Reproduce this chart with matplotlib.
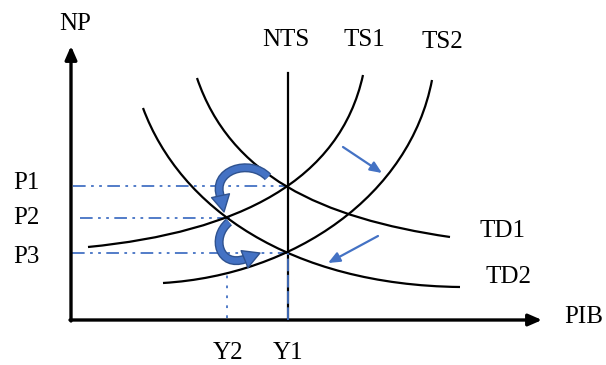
import matplotlib
matplotlib.use("Agg")
import matplotlib.pyplot as plt
import matplotlib.patheffects as pe
from matplotlib.path import Path
from matplotlib.patches import PathPatch

plt.rcParams['font.family'] = ['Liberation Serif', 'DejaVu Serif']

# Price levels and output levels (schematic units, origin at the axes corner)
price_labels = ["P1", "P2", "P3"]
price_levels = [134, 102, 67]
output_labels = ["Y2", "Y1"]
output_levels = [157, 217]

# Cubic Bezier control points for the curves
td1_ctrl = [(126, 242), (159, 145), (249, 102), (379, 83)]
td2_ctrl = [(72, 212), (109, 112), (219, 35), (389, 33)]
ts1_ctrl = [(292, 245), (269, 140), (169, 88), (17, 73)]
ts2_ctrl = [(361, 240), (339, 125), (224, 45), (92, 37)]
nts_top = 247

# Curved adjustment arrows: body (cubic Bezier) and head tip
adj1_body = [(197, 143), (179, 162), (139, 150), (150, 122)]
adj1_tip = (153, 108)
adj2_body = [(158, 98), (139, 82), (149, 52), (174, 61)]
adj2_tip = (189, 67)

BLUE = "#4472C4"
DARK_BLUE = "#2F528F"
FS = 18

fig = plt.figure(figsize=(6.06, 3.65), dpi=100)
ax = fig.add_axes([0, 0, 1, 1])
ax.set_xlim(-71, 535)
ax.set_ylim(-45, 320)
ax.axis("off")

CUBIC = [Path.MOVETO, Path.CURVE4, Path.CURVE4, Path.CURVE4]


def bezier(ctrl, **kw):
    patch = PathPatch(Path(ctrl, CUBIC), fill=False, **kw)
    ax.add_patch(patch)
    return patch


for ctrl in (td1_ctrl, td2_ctrl, ts1_ctrl, ts2_ctrl):
    bezier(ctrl, lw=1.6, edgecolor="black", zorder=3, capstyle="butt")

# Long-run supply (vertical)
ax.plot([output_levels[1], output_levels[1]], [0, nts_top], color="black", lw=1.6, zorder=3)

# Dash-dot guide lines
dd = (0, (7, 3, 1.5, 3, 1.5, 3))
ax.plot([2, output_levels[1]], [price_levels[0]] * 2, color=BLUE, lw=1.3, ls=dd, zorder=2)
ax.plot([9, output_levels[0] + 2], [price_levels[1]] * 2, color=BLUE, lw=1.3, ls=dd, zorder=2)
ax.plot([1, output_levels[1]], [price_levels[2]] * 2, color=BLUE, lw=1.3, ls=dd, zorder=2)
ax.plot([output_levels[0] - 1, output_levels[0] - 1], [2, 50], color=BLUE, lw=1.3,
        ls=(0, (1.5, 4)), zorder=2)
ax.plot([output_levels[1], output_levels[1]], [0, price_levels[2]], color=BLUE, lw=1.3,
        ls=(0, (7, 2)), zorder=4)

# Axes with arrowheads
axis_arrow = dict(arrowstyle="-|>,head_length=0.8,head_width=0.35", lw=2.4,
                  color="black", shrinkA=0, shrinkB=0)
ax.annotate("", xy=(0, 274), xytext=(0, -1), arrowprops=axis_arrow)
ax.annotate("", xy=(471, 0), xytext=(-1, 0), arrowprops=axis_arrow)

# Shift arrows
shift_arrow = dict(arrowstyle="-|>,head_length=0.7,head_width=0.3", lw=1.6,
                   color=BLUE, shrinkA=0, shrinkB=0)
ax.annotate("", xy=(311, 147), xytext=(272, 173), arrowprops=shift_arrow)
ax.annotate("", xy=(257, 57), xytext=(307, 84), arrowprops=shift_arrow)

# Curved adjustment arrows
outline = [pe.Stroke(linewidth=6.5, foreground=DARK_BLUE), pe.Normal()]
for body, tip in [(adj1_body, adj1_tip), (adj2_body, adj2_tip)]:
    bezier(body, lw=4.5, edgecolor=BLUE, zorder=5, capstyle="butt",
           path_effects=outline)
    ax.annotate("", xy=tip, xytext=body[-1],
                arrowprops=dict(arrowstyle="simple,head_length=1.0,head_width=1.1,tail_width=0.4",
                                mutation_scale=12, facecolor=BLUE, edgecolor=DARK_BLUE,
                                lw=1.0, shrinkA=0, shrinkB=0),
                zorder=6)

# Labels
ax.text(4, 296, "NP", fontsize=FS, ha="center", va="center")
ax.text(513, 3, "PIB", fontsize=FS, ha="center", va="center")
ax.text(215, 280, "NTS", fontsize=FS, ha="center", va="center")
ax.text(293, 280, "TS1", fontsize=FS, ha="center", va="center")
ax.text(371, 278, "TS2", fontsize=FS, ha="center", va="center")
ax.text(432, 89, "TD1", fontsize=FS, ha="center", va="center")
ax.text(438, 43, "TD2", fontsize=FS, ha="center", va="center")
for lab, y, dy in zip(price_labels, price_levels, [3, 0, -4]):
    ax.text(-45, y + dy, lab, fontsize=FS, ha="center", va="center")
for lab, x in zip(output_labels, output_levels):
    ax.text(x, -33, lab, fontsize=FS, ha="center", va="center")

fig.savefig("out.png", dpi=100)
